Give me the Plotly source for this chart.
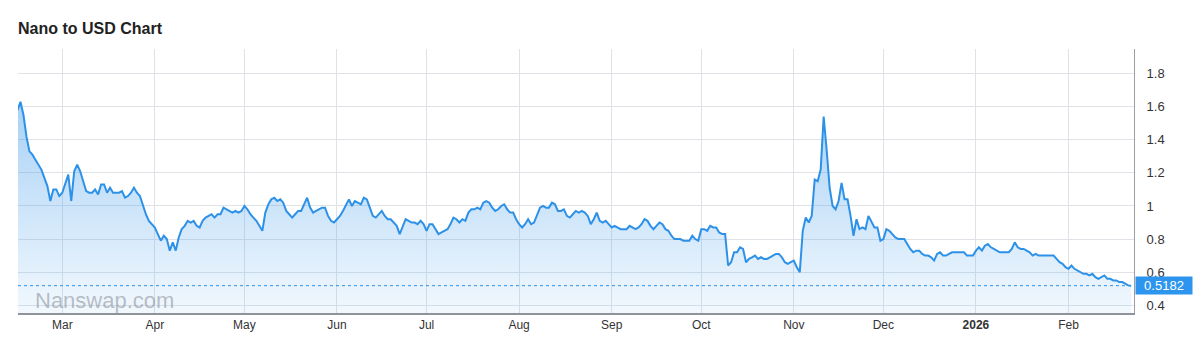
import pandas as pd
import plotly.graph_objects as go

# ---------------- data (daily closes, NANO/USD) ----------------
START_DATE = "2025-02-14"

prices_feb_apr = [
    1.58, 1.63, 1.55, 1.42, 1.33, 1.31, 1.28, 1.25, 1.22, 1.17,
    1.12, 1.03, 1.10, 1.10, 1.06, 1.08, 1.13, 1.19, 1.03, 1.21,
    1.25, 1.21, 1.15, 1.09, 1.08, 1.08, 1.10, 1.07, 1.13, 1.13,
    1.08, 1.11, 1.08, 1.08, 1.08, 1.09, 1.05, 1.06, 1.08, 1.11,
    1.08, 1.06, 1.00, 0.95, 0.91, 0.89, 0.87, 0.83, 0.79, 0.82,
    0.80, 0.73, 0.78, 0.73, 0.81, 0.86, 0.88, 0.91, 0.90, 0.91,
    0.88, 0.87, 0.91, 0.93, 0.94, 0.95, 0.93, 0.95, 0.95, 0.99,
    0.98, 0.97, 0.96, 0.97, 0.96, 0.97, 1.00,
]
prices_may_jul = [
    0.98, 0.95, 0.93, 0.91, 0.88, 0.85, 0.96, 1.01, 1.04, 1.05,
    1.03, 1.04, 1.02, 0.97, 0.95, 0.93, 0.95, 0.97, 0.97, 1.01,
    1.05, 0.99, 0.96, 0.97, 0.98, 0.99, 0.99, 0.94, 0.91, 0.90,
    0.92, 0.94, 0.97, 1.01, 1.04, 1.00, 1.03, 1.02, 1.01, 1.05,
    1.04, 0.99, 0.94, 0.93, 0.95, 0.97, 0.94, 0.92, 0.92, 0.90,
    0.88, 0.83, 0.88, 0.92, 0.91, 0.90, 0.90, 0.89, 0.91, 0.89,
    0.85, 0.89, 0.89, 0.86, 0.83, 0.84, 0.85, 0.86, 0.89, 0.93,
    0.92, 0.90, 0.92, 0.91, 0.96,
]
prices_jul_sep = [
    0.98, 0.98, 0.99, 0.98, 1.02, 1.03, 1.02, 0.99, 0.97, 0.98,
    1.00, 1.01, 0.98, 0.96, 0.96, 0.92, 0.89, 0.87, 0.89, 0.92,
    0.89, 0.90, 0.94, 0.99, 1.00, 0.99, 0.99, 1.02, 1.01, 0.97,
    0.97, 0.98, 0.94, 0.93, 0.95, 0.97, 0.96, 0.97, 0.96, 0.94,
    0.89, 0.92, 0.96, 0.91, 0.90, 0.91, 0.89, 0.87, 0.88, 0.87,
    0.86, 0.86, 0.86, 0.88, 0.87, 0.86, 0.87, 0.89, 0.92, 0.91,
    0.88, 0.86, 0.88, 0.90, 0.89, 0.86, 0.85, 0.82, 0.80, 0.80,
    0.80, 0.79, 0.79, 0.79, 0.82,
]
prices_sep_dec = [
    0.80, 0.79, 0.86, 0.86, 0.85, 0.88, 0.87, 0.87, 0.84, 0.83,
    0.83, 0.64, 0.66, 0.72, 0.72, 0.75, 0.74, 0.66, 0.68, 0.69,
    0.70, 0.68, 0.69, 0.68, 0.68, 0.69, 0.70, 0.71, 0.71, 0.69,
    0.66, 0.65, 0.66, 0.67, 0.63, 0.60, 0.85, 0.93, 0.90, 0.94,
    1.16, 1.15, 1.22, 1.54, 1.34, 1.11, 1.00, 0.98, 1.03, 1.14,
    1.04, 1.04, 0.94, 0.82, 0.92, 0.86, 0.87, 0.86, 0.94, 0.90,
    0.87, 0.87, 0.79, 0.80, 0.86, 0.85, 0.83, 0.81, 0.80, 0.80,
    0.80, 0.77, 0.74, 0.72, 0.73,
]
prices_dec_feb = [
    0.73, 0.71, 0.70, 0.70, 0.69, 0.67, 0.71, 0.72, 0.70, 0.70,
    0.71, 0.72, 0.72, 0.72, 0.72, 0.72, 0.70, 0.70, 0.70, 0.73,
    0.75, 0.73, 0.76, 0.77, 0.75, 0.74, 0.73, 0.72, 0.72, 0.72,
    0.72, 0.74, 0.78, 0.75, 0.74, 0.74, 0.73, 0.72, 0.70, 0.71,
    0.70, 0.70, 0.70, 0.70, 0.70, 0.70, 0.68, 0.66, 0.65, 0.63,
    0.62, 0.64, 0.62, 0.61, 0.60, 0.59, 0.59, 0.58, 0.59, 0.57,
    0.56, 0.57, 0.58, 0.56, 0.56, 0.55, 0.55, 0.54, 0.54, 0.53,
    0.52, 0.5182,
]

tick_dates = ["2025-03-01", "2025-04-01", "2025-05-01", "2025-06-01",
              "2025-07-01", "2025-08-01", "2025-09-01", "2025-10-01",
              "2025-11-01", "2025-12-01", "2026-01-01", "2026-02-01"]
tick_labels = ["Mar", "Apr", "May", "Jun", "Jul", "Aug", "Sep", "Oct",
               "Nov", "Dec", "<b>2026</b>", "Feb"]

prices = prices_feb_apr + prices_may_jul + prices_jul_sep + prices_sep_dec + prices_dec_feb
dates = pd.date_range(START_DATE, periods=len(prices), freq="D")
last_price = prices[-1]

# ---------------- style ----------------
FONT = "Liberation Sans, Arial, Helvetica, sans-serif"
LINE = "#2d91e8"
GRID = "#dfe3e8"
TEXT = "#333333"

fig = go.Figure()
fig.add_trace(go.Scatter(
    x=dates, y=prices, mode="lines",
    line=dict(color=LINE, width=2),
    fill="tozeroy",
    fillgradient=dict(
        type="vertical",
        colorscale=[[0, "rgba(45,145,232,0.06)"], [1, "rgba(45,145,232,0.42)"]],
        start=0.353, stop=1.65,
    ),
    hoverinfo="skip", showlegend=False,
))

# dotted last-price line
fig.add_shape(type="line", xref="paper", x0=0, x1=1, yref="y",
              y0=last_price, y1=last_price,
              line=dict(color=LINE, width=1, dash="dot"))

# last price tag
fig.add_annotation(xref="paper", x=1, xanchor="left", xshift=1,
                   yref="y", y=last_price, yanchor="middle",
                   text=f"{last_price:.4f}", showarrow=False,
                   font=dict(family=FONT, size=13, color="white"),
                   bgcolor="#2d95ee", borderpad=2, width=52, height=13,
                   align="center")

# watermark
fig.add_annotation(xref="paper", x=0, xanchor="left", xshift=15,
                   yref="y", y=0.43, yanchor="middle",
                   text="Nanswap.com", showarrow=False,
                   font=dict(family=FONT, size=22, color="rgba(125,130,140,0.5)"))

fig.update_layout(
    width=1200, height=344,
    margin=dict(l=18, r=66, t=49, b=29),
    paper_bgcolor="white", plot_bgcolor="white",
    font=dict(family=FONT, color=TEXT),
    title=dict(text="<b>Nano to USD Chart</b>", xref="container", x=18 / 1200,
               xanchor="left", yref="container", y=1 - 28 / 344, yanchor="middle",
               font=dict(family=FONT, size=16, color="#222222")),
    xaxis=dict(
        type="date",
        range=["2025-02-14 04:00", "2026-02-22 22:30"],
        tickmode="array", tickvals=tick_dates, ticktext=tick_labels,
        showgrid=True, gridcolor=GRID, gridwidth=1,
        showline=True, linecolor="#8e939a", linewidth=1.5,
        ticks="", zeroline=False,
        tickfont=dict(family=FONT, size=12, color=TEXT),
    ),
    yaxis=dict(
        side="right",
        range=[0.353, 1.949],
        tick0=0.4, dtick=0.2,
        showgrid=True, gridcolor=GRID, gridwidth=1,
        showline=True, linecolor="#9a9ea5", linewidth=1,
        ticks="outside", ticklen=9, tickcolor="rgba(0,0,0,0)",
        zeroline=False,
        tickfont=dict(family=FONT, size=13, color=TEXT),
    ),
)

fig.write_html("out.html")
